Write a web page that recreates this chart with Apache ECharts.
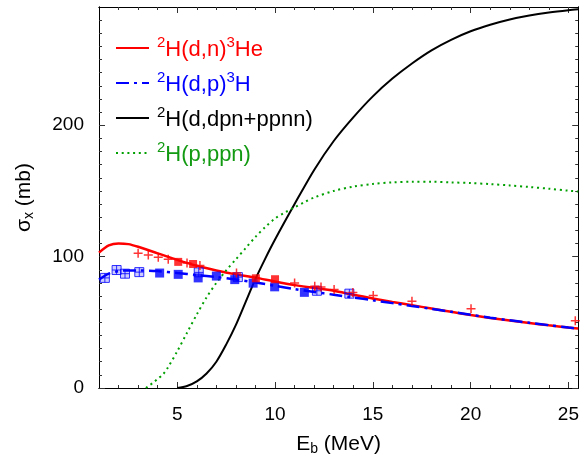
<!DOCTYPE html>
<html>
<head>
<meta charset="utf-8">
<script src="https://cdn.jsdelivr.net/npm/echarts@6/dist/echarts.min.js"></script>
<style>
  html, body { margin: 0; padding: 0; background: #fff; }
  #chart { width: 582px; height: 461px; }
</style>
</head>
<body>
<div id="chart"></div>
<script>
// curves (E in MeV, sigma in mb)
const dE = [1, 1.5, 2, 2.5, 3, 4, 5, 6, 7, 8, 9, 10, 11, 12, 13, 14, 15, 16, 17, 18, 19, 20, 21, 22, 23, 24, 25, 25.5];
const dnSigma = [103, 108.5, 110, 109.5, 107.5, 102.5, 97.5, 93, 89.5, 86.5, 84, 81, 78.3, 76.2, 74, 71, 68.2, 65.5, 63, 60.5, 58, 55.5, 53.3, 51.3, 49.5, 47.7, 46, 45.3];
const dpSigma = [82.5, 87, 89, 89.5, 89.5, 89, 87.5, 86, 84.5, 82.5, 80.3, 77.8, 75.3, 73.1, 71, 68.9, 66.8, 64.6, 62.4, 60.2, 58, 55.7, 53.5, 51.5, 49.6, 47.8, 46, 45.2];

const breakupE = [5, 5.5, 6, 6.5, 7, 7.5, 8, 8.5, 9, 9.5, 10, 11, 12, 13, 14, 15, 16, 17, 18, 19, 20, 21, 22, 23, 24, 25, 25.5];
const breakupSigma = [0, 1.5, 5, 11, 20, 33, 48, 65.5, 83, 98.5, 113, 140, 166, 188, 206, 222, 235.5, 247, 257, 265, 271.5, 276.5, 280.5, 283.5, 285.8, 287.6, 288.3];

const ppnE = [3.4, 3.6, 3.8, 4, 4.25, 4.5, 5, 5.5, 6, 6.5, 7, 7.5, 8, 8.5, 9, 9.5, 10, 10.5, 11, 11.5, 12, 13, 14, 15, 16, 17, 18, 19, 20, 21, 22, 23, 24, 25, 25.5];
const ppnSigma = [0, 2.3, 4.3, 7, 10, 15, 28, 42, 56, 69, 80, 89.5, 98, 106.5, 115, 122.5, 129, 133.5, 137.5, 141.5, 145, 150, 153.3, 155.3, 156.5, 157, 157, 156.5, 156, 155.2, 154.2, 153, 151.7, 150.2, 149.5];

// experimental points
const dnPlus = [[3.0, 102.6], [3.52, 101.2], [4.03, 99.5], [4.54, 98], [5.5, 95.2], [6.16, 93.2], [8.03, 87.6], [11.0, 80], [12.03, 77.5], [12.35, 76.8], [13.02, 75], [13.98, 72.7], [15.02, 70.5], [17.0, 66.1], [20.02, 60.3], [25.35, 51.2]];
const dnSquare = [[5.05, 96], [5.81, 94.4], [9.02, 83.5], [10.0, 82.8]];
const dpSquare = [[4.1, 87.5], [5.05, 86.5], [6.07, 83.8], [7.0, 85.2], [7.94, 82.5], [8.88, 79.8], [9.98, 77], [11.5, 72.8]];
const dpOpen = [[1.3, 83.8], [1.9, 89.8], [2.33, 87], [3.06, 88.2], [6.1, 88], [8.1, 84.4], [12.14, 74], [13.8, 71.8]];

// ticks
const xMajor = [5, 10, 15, 20, 25];
const xMinor = [2, 3, 4, 5, 6, 7, 8, 9, 10, 11, 12, 13, 14, 15, 16, 17, 18, 19, 20, 21, 22, 23, 24, 25];
const yMajor = [0, 100, 200];
const yMinor = [10, 20, 30, 40, 50, 60, 70, 80, 90, 100, 110, 120, 130, 140, 150, 160, 170, 180, 190, 200, 210, 220, 230, 240, 250, 260, 270, 280];

const labels = {
  dn: '{s|2}{t|H(d,n)}{s|3}{t|He}',
  dp: '{s|2}{t|H(d,p)}{s|3}{t|H}',
  dpn: '{s|2}{t|H(d,dpn+ppnn)}',
  ppn: '{s|2}{t|H(p,ppn)}'
};

const FONT = '"Liberation Sans", Arial, Helvetica, sans-serif';
const RED = '#ff0000', BLUE = '#0000ff', GREEN = '#00a000';

function pairs(xs, ys) {
  return xs.map((x, i) => [x, ys[i]]);
}

function xAxisDef(pos, ticks, len, withLabel) {
  return {
    type: 'value', min: 1, max: 25.5, position: pos, gridIndex: 0,
    axisLine: { show: true, onZero: false, lineStyle: { color: '#000', width: 1 } },
    axisTick: { show: true, inside: true, length: len, customValues: ticks, lineStyle: { color: '#333' } },
    axisLabel: withLabel ? {
      show: true, customValues: xMajor, margin: 17,
      color: '#000', fontSize: 19, fontFamily: FONT
    } : { show: false },
    splitLine: { show: false }
  };
}

function yAxisDef(pos, ticks, len, withLabel) {
  return {
    type: 'value', min: 0, max: 290, position: pos, gridIndex: 0,
    axisLine: { show: true, onZero: false, lineStyle: { color: '#000', width: 1 } },
    axisTick: { show: true, inside: true, length: len, customValues: ticks, lineStyle: { color: '#333' } },
    axisLabel: withLabel ? {
      show: true, customValues: yMajor, margin: 15,
      color: '#000', fontSize: 19, fontFamily: FONT
    } : { show: false },
    splitLine: { show: false }
  };
}

const chart = echarts.init(document.getElementById('chart'));

const nameRich = {
  a: { fontSize: 21, fontFamily: FONT, color: '#000' },
  b: { fontSize: 14, fontFamily: FONT, color: '#000', verticalAlign: 'bottom', padding: [10, 0, 0, 0] }
};

const xBottom = xAxisDef('bottom', xMinor, 3, true);
xBottom.name = '{a|E}{b|b}{a| (MeV)}';
xBottom.nameLocation = 'middle';
xBottom.nameGap = 44;
xBottom.nameTextStyle = { rich: nameRich };

const yLeft = yAxisDef('left', yMinor, 3, true);
yLeft.name = '{a|σ}{b|x}{a| (mb)}';
yLeft.nameLocation = 'middle';
yLeft.nameGap = 63;
yLeft.nameRotate = 90;
yLeft.nameTextStyle = { rich: nameRich };

const option = {
  animation: false,
  backgroundColor: '#fff',
  grid: { left: 99, right: 3, top: 7, bottom: 72, containLabel: false },
  xAxis: [
    xBottom,
    xAxisDef('bottom', xMajor, 6, false),
    xAxisDef('top', xMinor, 3, false),
    xAxisDef('top', xMajor, 6, false)
  ],
  yAxis: [
    yLeft,
    yAxisDef('left', yMajor, 6, false),
    yAxisDef('right', yMinor, 3, false),
    yAxisDef('right', yMajor, 6, false)
  ],
  legend: {
    orient: 'vertical',
    left: 110,
    top: 30,
    itemWidth: 33,
    itemHeight: 14,
    itemGap: 9,
    itemStyle: { opacity: 0 },
    data: [
      { name: 'dn', textStyle: { color: RED } },
      { name: 'dp', textStyle: { color: BLUE } },
      { name: 'dpn', textStyle: { color: '#000' } },
      { name: 'ppn', textStyle: { color: '#129a12' } }
    ],
    formatter: name => labels[name],
    textStyle: {
      fontFamily: FONT,
      padding: [0, 0, 0, 3],
      rich: {
        t: { fontSize: 22, fontFamily: FONT, lineHeight: 26, verticalAlign: 'bottom' },
        s: { fontSize: 15, fontFamily: FONT, lineHeight: 14, verticalAlign: 'top' }
      }
    }
  },
  series: [
    {
      name: 'dn', type: 'line', data: pairs(dE, dnSigma), symbol: 'none',
      smooth: 0.3,
      lineStyle: { color: RED, width: 2.5 }, itemStyle: { color: RED }, z: 3
    },
    {
      name: 'dp', type: 'line', data: pairs(dE, dpSigma), symbol: 'none',
      smooth: 0.3,
      lineStyle: { color: BLUE, width: 2.5, type: [13, 5, 3, 5] }, itemStyle: { color: BLUE }, z: 4
    },
    {
      name: 'dpn', type: 'line', data: pairs(breakupE, breakupSigma), symbol: 'none',
      smooth: 0.3,
      lineStyle: { color: '#000', width: 2 }, itemStyle: { color: '#000' }, z: 3
    },
    {
      name: 'ppn', type: 'line', data: pairs(ppnE, ppnSigma), symbol: 'none',
      smooth: 0.3,
      lineStyle: { color: GREEN, width: 2, type: [2, 3.7] }, itemStyle: { color: GREEN }, z: 3
    },
    {
      name: 'dp-exp-open', type: 'scatter', data: dpOpen,
      symbol: 'path://M0,0H10V10H0ZM5,0V10M0,5H10', symbolSize: 9,
      itemStyle: { color: 'rgba(0,0,255,0.25)', borderColor: BLUE, borderWidth: 1 }, z: 5
    },
    {
      name: 'dp-exp', type: 'scatter', data: dpSquare,
      symbol: 'rect', symbolSize: 9,
      itemStyle: { color: BLUE }, z: 5
    },
    {
      name: 'dn-exp-sq', type: 'scatter', data: dnSquare,
      symbol: 'rect', symbolSize: 8,
      itemStyle: { color: RED }, z: 6
    },
    {
      name: 'dn-exp', type: 'scatter', data: dnPlus,
      symbol: 'path://M5,0V10M0,5H10', symbolSize: 9,
      itemStyle: { color: 'none', borderColor: RED, borderWidth: 1.5 }, z: 6
    }
  ]
};

chart.setOption(option);
window.addEventListener('resize', () => chart.resize());
</script>
</body>
</html>
